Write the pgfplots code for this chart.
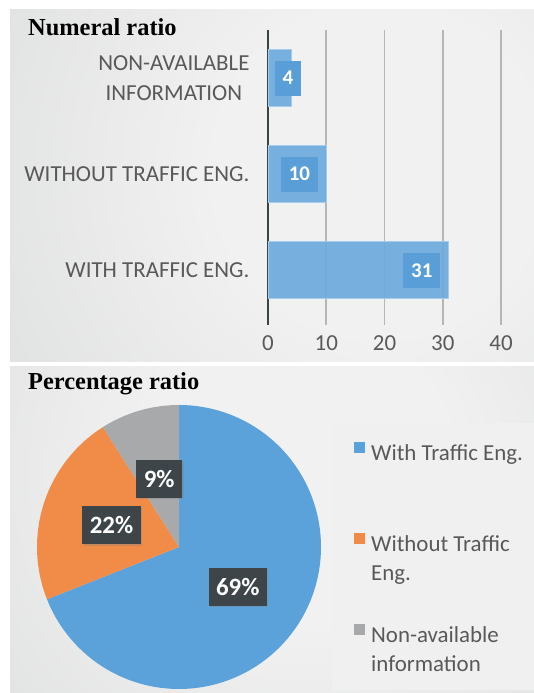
\documentclass[border=0pt]{standalone}
\usepackage{fontspec}
\setmainfont{Carlito}
\newfontfamily\titlefont{Liberation Serif}
\usepackage{pgfplots}
\pgfplotsset{compat=1.18}
\usetikzlibrary{shadows}
\pgfplotsset{/pgf/number format/assume math mode=true}

\definecolor{txtgray}{HTML}{595959}
\definecolor{barblue}{HTML}{6AAADC}
\definecolor{barlab}{HTML}{5A9ED8}
\definecolor{barline}{HTML}{A5CDEB}
\definecolor{gridc}{HTML}{B4B7B9}
\definecolor{axdark}{HTML}{3A4346}
\definecolor{pieblue}{HTML}{5BA2DB}
\definecolor{pieorange}{HTML}{F18C48}
\definecolor{piegray}{HTML}{A7A9AA}
\definecolor{labdark}{HTML}{3D4548}
\definecolor{bglight}{HTML}{F1F1F1}
\definecolor{bgdark}{HTML}{C9CBCC}
\definecolor{legbg}{HTML}{F0F0F0}

\pgfdeclareradialshading{panel}{\pgfpoint{0bp}{0bp}}{color(0bp)=(bglight); color(10bp)=(bglight); color(50bp)=(bgdark); color(70bp)=(bgdark)}

\tikzset{lab/.style={fill=labdark, text=white, font=\bfseries\fontsize{25}{28}\selectfont,
     minimum height=38bp, inner xsep=7.5bp,
     drop shadow={opacity=0.35, shadow xshift=1.5bp, shadow yshift=-1.5bp}}}

\newcommand{\legtxt}[1]{\raisebox{0pt}[27bp][13bp]{\begin{tabular}[t]{@{}l@{}}#1\end{tabular}}}

\begin{document}
\begin{tikzpicture}[x=1bp,y=1bp]
\useasboundingbox (0,0) rectangle (534,693);
% panels
\begin{scope}
\clip (10,331) rectangle (534,683);
\fill[bgdark] (10,331) rectangle (534,683);
\shade[shading=panel] (-30,113) rectangle (790,933);
\end{scope}
\begin{scope}
\clip (10,0) rectangle (534,326);
\fill[bgdark] (10,0) rectangle (534,326);
\shade[shading=panel] (-80,-160) rectangle (680,600);
\end{scope}
\fill[legbg] (332,3) rectangle (534,270);

\node[anchor=base west, inner sep=0pt, font=\titlefont\bfseries\fontsize{24.5}{28}\selectfont] at (28,657) {Numeral ratio};
\node[anchor=base west, inner sep=0pt, font=\titlefont\bfseries\fontsize{24.5}{28}\selectfont] at (28,303) {Percentage ratio};

% bar chart
\begin{axis}[
  at={(268bp,368bp)}, anchor=south west, scale only axis,
  width=233bp, height=295bp,
  xbar, bar width=57bp,
  xmin=0, xmax=40, ymin=-0.57, ymax=2.5,
  xtick={0,10,20,30,40}, ytick={0,1,2},
  yticklabels={WITH TRAFFIC ENG., WITHOUT TRAFFIC ENG., {NON-AVAILABLE\\INFORMATION}},
  yticklabel style={align=center, font=\fontsize{23}{30}\selectfont, text=txtgray, xshift=-15bp},
  xticklabel style={font=\fontsize{23}{26}\selectfont, text=txtgray, yshift=-7bp},
  xmajorgrids, grid style={gridc, line width=1.8bp},
  axis lines*=left, x axis line style={draw=none},
  y axis line style={axdark, line width=2.8bp, -},
  major tick length=0pt,
  nodes near coords,
  every node near coord/.append style={fill=barlab, text=white, fill opacity=1, text opacity=1,
     font=\bfseries\fontsize{21}{24}\selectfont, anchor=east, xshift=-8bp,
     minimum height=35bp, inner xsep=7.8bp},
  coordinate style/.condition={x<5}{xshift=18bp},
]
\addplot[fill=barblue, fill opacity=0.9, draw=barline, line width=0.8bp] coordinates {(31,0) (10,1) (4,2)};
\end{axis}

% pie chart
\begin{axis}[
  at={(179bp,146bp)}, anchor=center, scale only axis,
  width=284bp, height=284bp,
  xmin=-1, xmax=1, ymin=-1, ymax=1, enlargelimits=false,
  hide axis, clip=false,
  legend style={at={(1.116,0.901)}, anchor=north west, draw=none, fill=none,
     inner sep=0pt, row sep=62.5bp, column sep=6bp, text=txtgray,
     font=\fontsize{23}{29}\selectfont, cells={anchor=west}, nodes={inner sep=0pt}},
  legend image code/.code={\fill[#1] (-5.5bp,-5.5bp) rectangle (5.5bp,5.5bp);},
]
\addplot[draw=none, fill=pieblue, domain={90-3.6*69}:90, samples=150] ({cos(x)},{sin(x)}) -- (axis cs:0,0) -- cycle;
\addlegendentry{\legtxt{With Traffic Eng.}}
\addplot[draw=none, fill=pieorange, domain={90-3.6*91}:{90-3.6*69}, samples=60] ({cos(x)},{sin(x)}) -- (axis cs:0,0) -- cycle;
\addlegendentry{\legtxt{Without Traffic\\Eng.}}
\addplot[draw=none, fill=piegray, domain={90-3.6*100}:{90-3.6*91}, samples=30] ({cos(x)},{sin(x)}) -- (axis cs:0,0) -- cycle;
\addlegendentry{\legtxt{Non-available\\information}}
\node[lab] at (axis cs:{0.5*cos(90-3.6*34.5)},{0.5*sin(90-3.6*34.5)}) {69\%};
\node[lab] at (axis cs:{0.5*cos(90-3.6*80)},{0.5*sin(90-3.6*80)}) {22\%};
\node[lab] at (axis cs:{0.5*cos(90-3.6*95.5)},{0.5*sin(90-3.6*95.5)}) {9\%};
\end{axis}
\end{tikzpicture}
\end{document}
